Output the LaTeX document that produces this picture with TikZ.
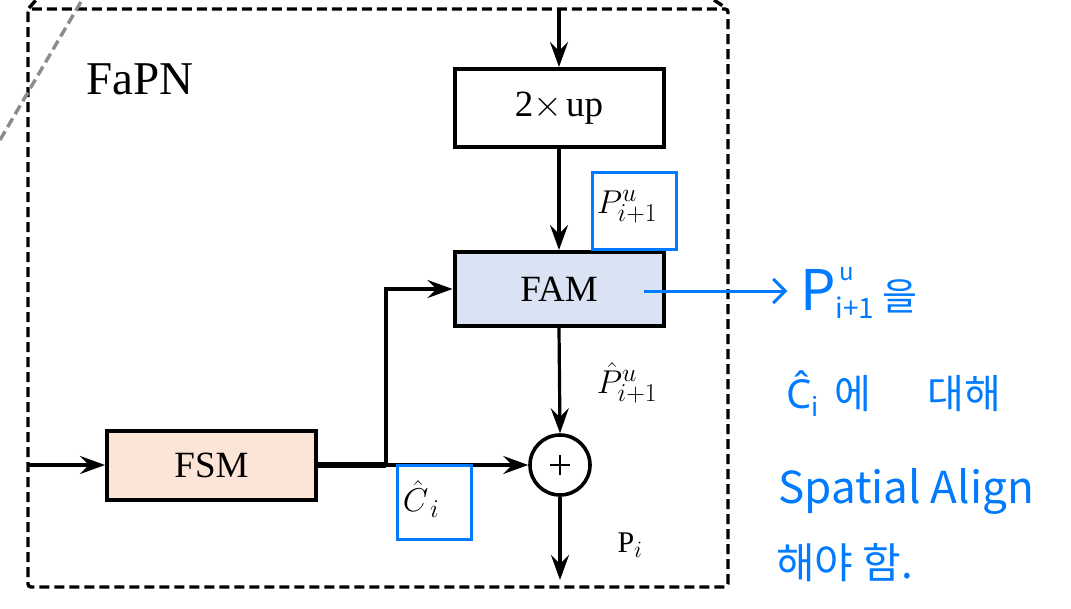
\RequirePackage{fix-cm}
\documentclass[tikz,border=0pt]{standalone}
\usepackage{fontspec}
\setmainfont{Liberation Serif}
\newfontfamily\krfont{Noto Sans CJK KR}
\newfontfamily\notesans{Noto Sans}
\renewcommand\defaultscriptratio{.78}
\usetikzlibrary{arrows.meta}
\definecolor{famfill}{RGB}{218,227,243}
\definecolor{fsmfill}{RGB}{251,229,214}
\definecolor{noteblue}{RGB}{0,122,255}
\definecolor{diaggrey}{RGB}{140,140,140}
\begin{document}
\begin{tikzpicture}[x=1pt,y=-1pt,
  blk/.style={draw=black, line width=4pt, inner sep=0pt, minimum width=209pt,
    font=\fontsize{37}{40}\selectfont},
  conn/.style={line width=3.2pt, -{Stealth[length=25pt,width=18pt,inset=9pt]}},
  hlbox/.style={draw=noteblue, line width=3pt, inner sep=0pt},
  mlabel/.style={inner sep=0pt, font=\fontsize{33}{35}\selectfont},
  note/.style={text=noteblue, inner sep=0pt, anchor=base west},
  frame/.style={line width=3.4pt, dash pattern=on 10pt off 5pt}]
\useasboundingbox (0,0) rectangle (1071,608);
% outer dashed frame
\draw[frame, rounded corners=3pt] (28,9) rectangle (728,587);
\draw[frame, draw=diaggrey] (0,140) -- (82,0);
\draw[frame] (29,8) -- (36,0);
\draw[frame] (714,0) -- (726,8);
% title
\node[inner sep=0pt, font=\fontsize{47}{50}\selectfont] (title) at (140,79) {FaPN};
% blocks
\node[blk, minimum height=78pt] (up) at (559,108) {2$\times$\kern4pt up};
\node[blk, minimum height=74pt, fill=famfill] (fam) at (559,289) {FAM};
\node[blk, minimum height=69pt, fill=fsmfill] (fsm) at (211.5,465) {FSM};
\node[draw, circle, line width=3.6pt, minimum size=60pt, inner sep=0pt] (plus) at (560,465) {};
\draw[line width=1.3pt] ([xshift=-10pt]plus.center) -- ([xshift=10pt]plus.center)
  ([yshift=-10pt]plus.center) -- ([yshift=10pt]plus.center);
% coordinates
\coordinate (topin) at (559,9);
\coordinate (leftin) at (28,465);
\coordinate (branch) at (386,465);
\coordinate (out) at (560,580);
% connectors
\draw[conn] (topin) -- (up.north);
\draw[conn] (up.south) -- (fam.north);
\draw[conn] (fam.south) -- (plus.north);
\draw[conn] (plus.south) -- (out);
\draw[conn] (leftin) -- (fsm.west);
\draw[line width=5.5pt] (fsm.east) -- (branch);
\draw[conn] (branch) -- (plus.west);
\draw[conn] (branch) |- (fam.west);
% highlight boxes and labels
\node[hlbox, minimum width=84pt, minimum height=77pt] (pbox) at (634.5,210.5) {};
\node[mlabel] (plab) at (627,207) {$P^{u}_{i+1}$};
\node[mlabel] (phat) at (627,383) {$\hat{P}^{u}_{i+1}$};
\node[hlbox, minimum width=74pt, minimum height=74pt] (cbox) at (434,502) {};
\node[mlabel] (clab) at (421,499) {$\hat{C}_{\,i}$};
\node[inner sep=0pt, font=\fontsize{30}{32}\selectfont] (pi) at (630,545) {P$_{i}$};
% note
\coordinate (famnote) at (644,291);
\node[inner sep=0pt] (notehead) at (788,291) {};
\draw[noteblue, line width=3pt, -{Straight Barb[length=12pt,width=24pt]}] (famnote) -- (notehead.west);
\node[note] (n1) at (800,310) {\krfont\fontsize{56}{56}\selectfont P\rlap{\raisebox{30pt}{\fontsize{24}{24}\selectfont\,u}}\raisebox{-8pt}{\fontsize{28}{28}\selectfont i+1}\hspace{8pt}{\fontsize{38}{38}\selectfont 을}};
\node[note] (n2) at (786,408) {\fontsize{40}{40}\selectfont{\notesans Ĉ}\raisebox{-8pt}{\krfont\fontsize{26}{26}\selectfont i}\hspace{16pt}{\krfont 에\hspace{56pt}대해}};
\node[note] (n3) at (778,503) {\krfont\fontsize{44}{44}\selectfont Spatial Align};
\node[note] (n4) at (776,578) {\krfont\fontsize{42}{42}\selectfont 해야 함.};
\end{tikzpicture}
\end{document}
